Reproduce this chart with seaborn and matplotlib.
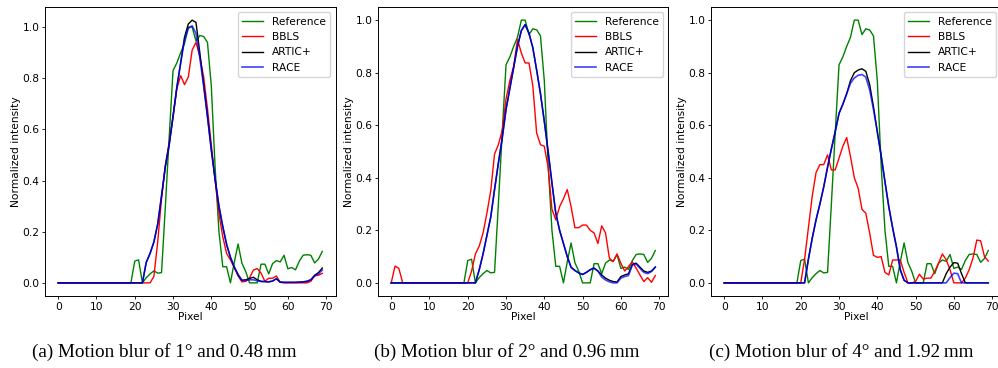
import numpy as np
import pandas as pd
import seaborn as sns
import matplotlib
matplotlib.use("Agg")
import matplotlib.pyplot as plt

# Eixo x: posição do pixel ao longo do perfil
pixel = np.arange(70)

# Perfil de referência (igual nos três painéis)
reference = [0.0] * 20 + [
    0.085, 0.09, 0.0, 0.02, 0.035, 0.047, 0.038, 0.04, 0.30, 0.57,
    0.83, 0.86, 0.90, 0.935, 1.0, 1.0, 0.945, 0.967, 0.963, 0.94,
    0.77, 0.45, 0.20, 0.063, 0.063, 0.0, 0.08, 0.152, 0.077, 0.044,
    0.0, 0.0, 0.0, 0.073, 0.073, 0.035, 0.075, 0.087, 0.082, 0.108,
    0.055, 0.06, 0.051, 0.085, 0.108, 0.11, 0.108, 0.078, 0.093, 0.123,
]

# (a) 1 grau / 0.48 mm
bbls_a = [0.0] * 25 + [
    0.025, 0.16, 0.33, 0.46, 0.55,
    0.65, 0.76, 0.81, 0.775, 0.805, 0.91, 0.94, 0.885, 0.805, 0.68,
    0.54, 0.40, 0.27, 0.18, 0.115, 0.09, 0.06, 0.027, 0.004, 0.006,
    0.02, 0.05, 0.056, 0.038, 0.006, 0.018, 0.018, 0.027, 0.002, 0.0,
    0.0, 0.0, 0.0, 0.0, 0.0, 0.0, 0.006, 0.028, 0.03, 0.037,
]
artic_a = [0.0] * 23 + [
    0.08, 0.115, 0.16, 0.23, 0.34, 0.455, 0.54,
    0.65, 0.765, 0.86, 0.96, 1.012, 1.027, 1.018, 0.90, 0.775, 0.65,
    0.52, 0.405, 0.30, 0.22, 0.15, 0.10, 0.062, 0.032, 0.01, 0.012,
    0.017, 0.022, 0.012, 0.006, 0.005, 0.004, 0.007, 0.016, 0.003, 0.002,
    0.002, 0.002, 0.002, 0.003, 0.004, 0.006, 0.012, 0.03, 0.04, 0.058,
]
race_a = [0.0] * 23 + [
    0.08, 0.115, 0.16, 0.23, 0.34, 0.455, 0.54,
    0.65, 0.765, 0.86, 0.95, 0.995, 1.005, 0.975, 0.88, 0.77, 0.65,
    0.52, 0.405, 0.30, 0.22, 0.15, 0.10, 0.062, 0.032, 0.01, 0.01,
    0.012, 0.012, 0.008, 0.005, 0.005, 0.004, 0.007, 0.016, 0.003, 0.002,
    0.002, 0.002, 0.002, 0.003, 0.004, 0.006, 0.012, 0.027, 0.035, 0.05,
]

# (b) 2 graus / 0.96 mm
bbls_b = [0.0, 0.064, 0.055] + [0.0] * 18 + [
    0.045, 0.11, 0.14, 0.19, 0.265, 0.35, 0.49, 0.526, 0.58,
    0.70, 0.77, 0.825, 0.926, 0.875, 0.837, 0.837, 0.75, 0.57, 0.526,
    0.52, 0.44, 0.28, 0.24, 0.29, 0.32, 0.355, 0.29, 0.21, 0.21,
    0.22, 0.22, 0.20, 0.19, 0.15, 0.217, 0.19, 0.094, 0.081, 0.11,
    0.075, 0.045, 0.062, 0.08, 0.056, 0.03, 0.005, 0.02, 0.002, 0.028,
]
artic_b = [0.0] * 23 + [
    0.05, 0.11, 0.18, 0.25, 0.355, 0.456, 0.55,
    0.66, 0.74, 0.82, 0.90, 0.96, 0.983, 0.95, 0.895, 0.81, 0.72,
    0.615, 0.50, 0.38, 0.265, 0.20, 0.15, 0.10, 0.06, 0.047, 0.038,
    0.032, 0.04, 0.05, 0.056, 0.045, 0.03, 0.018, 0.01, 0.005, 0.003,
    0.024, 0.03, 0.035, 0.07, 0.075, 0.06, 0.045, 0.04, 0.045, 0.06,
]
race_b = [0.0] * 23 + [
    0.05, 0.11, 0.18, 0.25, 0.355, 0.456, 0.55,
    0.66, 0.74, 0.82, 0.90, 0.96, 0.983, 0.95, 0.895, 0.81, 0.72,
    0.615, 0.50, 0.38, 0.265, 0.20, 0.15, 0.10, 0.058, 0.047, 0.038,
    0.032, 0.04, 0.05, 0.056, 0.045, 0.022, 0.011, 0.004, 0.0, 0.0,
    0.018, 0.024, 0.028, 0.068, 0.072, 0.055, 0.04, 0.035, 0.043, 0.06,
]

# (c) 4 graus / 1.92 mm
bbls_c = [0.0] * 21 + [
    0.09, 0.21, 0.33, 0.42, 0.45, 0.45, 0.487, 0.43, 0.43,
    0.475, 0.52, 0.553, 0.48, 0.40, 0.36, 0.28, 0.265, 0.19, 0.105,
    0.097, 0.10, 0.04, 0.03, 0.087, 0.087, 0.087, 0.04, 0.0, 0.0,
    0.005, 0.033, 0.014, 0.018, 0.018, 0.043, 0.075, 0.11, 0.088, 0.05,
    0.0, 0.0, 0.0, 0.018, 0.05, 0.094, 0.163, 0.16, 0.10, 0.083,
]
artic_c = [0.0] * 22 + [
    0.09, 0.17, 0.24, 0.30, 0.365, 0.44, 0.51, 0.575,
    0.645, 0.68, 0.72, 0.77, 0.80, 0.81, 0.815, 0.805, 0.755, 0.67,
    0.575, 0.485, 0.385, 0.29, 0.21, 0.137, 0.05, 0.01, 0.0, 0.0,
    0.0, 0.0, 0.0, 0.0, 0.0, 0.0, 0.0, 0.0, 0.035, 0.06,
    0.077, 0.075, 0.035, 0.0, 0.0, 0.0, 0.0, 0.0, 0.0, 0.0,
]
race_c = [0.0] * 22 + [
    0.09, 0.17, 0.24, 0.30, 0.365, 0.44, 0.51, 0.575,
    0.645, 0.68, 0.72, 0.76, 0.78, 0.79, 0.793, 0.783, 0.735, 0.66,
    0.575, 0.485, 0.385, 0.29, 0.21, 0.137, 0.05, 0.01, 0.0, 0.0,
    0.0, 0.0, 0.0, 0.0, 0.0, 0.0, 0.0, 0.0, 0.0, 0.02,
    0.037, 0.035, 0.0, 0.0, 0.0, 0.0, 0.0, 0.0, 0.0, 0.0,
]

captions = [
    "(a) Motion blur of 1° and 0.48\u2009mm",
    "(b) Motion blur of 2° and 0.96\u2009mm",
    "(c) Motion blur of 4° and 1.92\u2009mm",
]
panels = [
    (bbls_a, artic_a, race_a),
    (bbls_b, artic_b, race_b),
    (bbls_c, artic_c, race_c),
]

fs = 7.7
fig = plt.figure(figsize=(9.98, 3.68), dpi=100)

for i, (bbls, artic, race) in enumerate(panels):
    ax = fig.add_axes([(45 + 333 * i) / 998, 72 / 368, 290.5 / 998, 289 / 368])
    sns.lineplot(x=pixel, y=reference, color="green", lw=1.0, label="Reference", ax=ax)
    sns.lineplot(x=pixel, y=bbls, color="red", lw=1.0, label="BBLS", ax=ax)
    sns.lineplot(x=pixel, y=artic, color="black", lw=1.0, label="ARTIC+", ax=ax)
    sns.lineplot(x=pixel, y=race, color="blue", lw=1.2, alpha=0.75, label="RACE", ax=ax)
    ax.set_xticks(range(0, 71, 10))
    ax.set_yticks([0.0, 0.2, 0.4, 0.6, 0.8, 1.0])
    ax.tick_params(labelsize=fs, width=0.6, length=2.5, pad=1.5)
    ax.set_xlabel("Pixel", fontsize=fs, labelpad=0)
    ax.set_ylabel("Normalized intensity", fontsize=fs, labelpad=1)
    for s in ax.spines.values():
        s.set_linewidth(0.7)
    ax.legend(loc="upper right", fontsize=fs)

cap_x = [164, 507, 841]
for cx, txt in zip(cap_x, captions):
    fig.text(cx / 998, 1 - 352 / 368, txt, ha="center", va="center",
             family="Liberation Serif", fontsize=13.8)

fig.savefig("out.png", dpi=100)
